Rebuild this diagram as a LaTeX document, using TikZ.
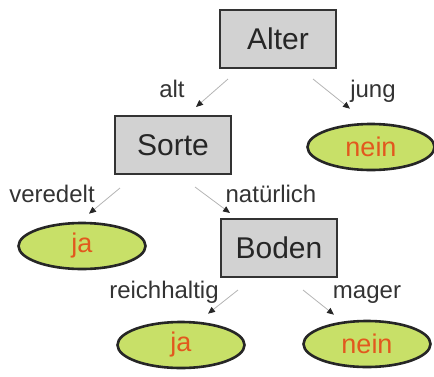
\documentclass[tikz,border=0pt]{standalone}
\usepackage{fontspec}
\setmainfont{Liberation Sans}
\usetikzlibrary{arrows.meta,calc,shapes.geometric}
\definecolor{boxgray}{RGB}{210,210,210}
\definecolor{leafgreen}{RGB}{200,224,104}
\definecolor{leaftext}{RGB}{226,88,30}
\definecolor{edgegray}{RGB}{180,180,180}

\begin{document}
\begin{tikzpicture}[x=1pt,y=-1pt,
        attr/.style={draw=black!80, line width=2pt, fill=boxgray, minimum width=116pt, minimum height=58pt, font=\fontsize{30}{30}\selectfont, text=black!85},
        leaf/.style={ellipse, draw=black!85, line width=2.6pt, fill=leafgreen, minimum width=127pt, minimum height=46pt, inner sep=0pt, text=leaftext, font=\fontsize{27}{27}\selectfont},
        val/.style={anchor=base, font=\fontsize{24}{24}\selectfont, text=black!80},
        edge/.style={draw=edgegray, line width=0.8pt, -{Triangle[color=black!85, length=7pt, width=6pt]}}]
        \useasboundingbox (0,0) rectangle (434,376);

        \draw (278,39) node[attr] (alter) {Alter};
        \draw (173,145) node[attr] (sorte) {Sorte};
        \draw (279,248) node[attr] (boden) {Boden};
        \draw (371,147) node[leaf] (nein1) {nein};
        \draw (82,246) node[leaf] (ja1) {ja};
        \draw (181,345) node[leaf] (ja2) {ja};
        \draw (367,344) node[leaf] (nein2) {nein};

        \draw[edge] ($(alter.south west)+(9,10)$) -- ($(sorte.north)+(23,-8)$);
        \draw[edge] ($(alter.south east)+(-24,10)$) -- ($(nein1.north)+(-21,-14)$);
        \draw[edge] ($(sorte.south west)+(6,13)$) -- ($(ja1.north)+(7,-8)$);
        \draw[edge] ($(sorte.south)+(22,12)$) -- ($(boden.north west)+(10,-5)$);
        \draw[edge] ($(boden.south west)+(18,12)$) -- ($(ja2.north)+(27,-7)$);
        \draw[edge] ($(boden.south east)+(-35,12)$) -- ($(nein2.north)+(-33,-5)$);

        \draw (172,97) node[val] (alt) {alt};
        \draw (373,97) node[val] (jung) {jung};
        \draw (52,202) node[val] (veredelt) {veredelt};
        \draw (271,202) node[val] (natuerlich) {natürlich};
        \draw (164,298) node[val] (reich) {reichhaltig};
        \draw (367,298) node[val] (mager) {mager};
    \end{tikzpicture}
\end{document}
